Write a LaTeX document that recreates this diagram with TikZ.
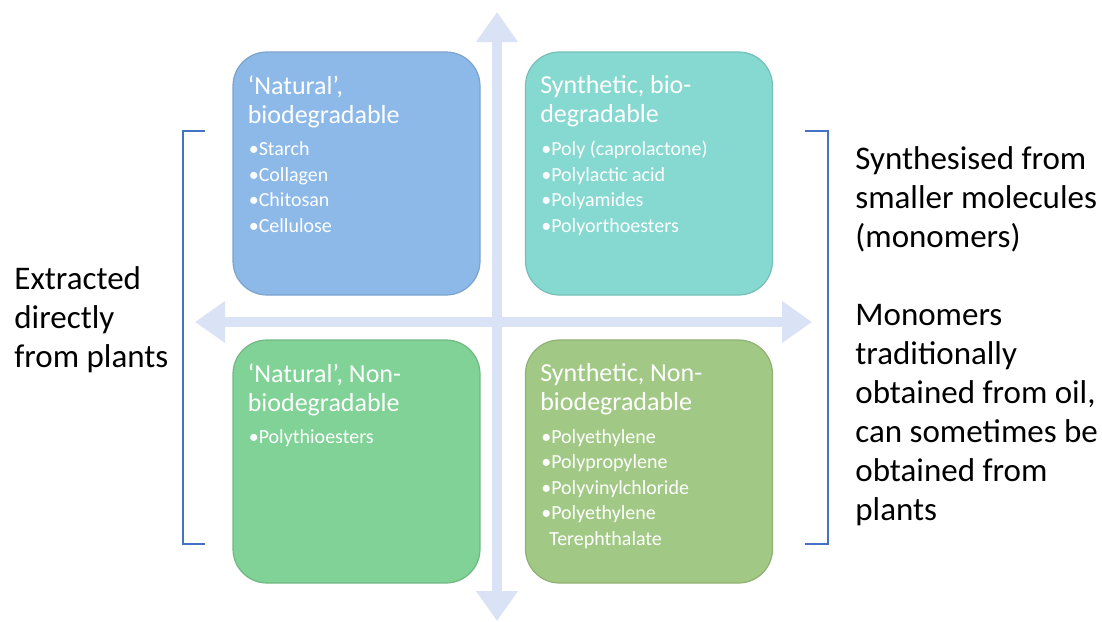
\documentclass[tikz,border=0pt]{standalone}
\usepackage{fontspec}
\setmainfont{Carlito}
\definecolor{axiscol}{RGB}{218,226,245}
\definecolor{bracketcol}{RGB}{68,114,196}
\definecolor{natbio}{RGB}{141,185,232}
\definecolor{synbio}{RGB}{134,217,209}
\definecolor{natnon}{RGB}{128,210,150}
\definecolor{synnon}{RGB}{161,201,133}
\usetikzlibrary{arrows.meta}
\usetikzlibrary{positioning}

\begin{document}
\begin{tikzpicture}[x=0.5pt, y=-0.5pt,
    quad/.style={draw=#1!88!black, line width=0.6pt, fill=#1, rounded corners=17pt,
        minimum width=123.5pt, minimum height=121.5pt},
    qtitle/.style={anchor=north west, inner sep=0pt, align=left, text=white,
        font=\fontsize{13}{14.5}\selectfont},
    qitems/.style={anchor=north west, inner sep=0pt, align=left, text=white,
        font=\fontsize{10}{12.75}\selectfont},
    side/.style={inner sep=0pt, align=left, font=\fontsize{16.5}{19.5}\selectfont},
    axis/.style={draw=axiscol, line width=5pt,
        {Triangle[width=20pt,length=15pt]}-{Triangle[width=20pt,length=15pt]}},
    brace/.style={draw=bracketcol, line width=1.2pt}]
\useasboundingbox (0,0) rectangle (1102,621);

% axes
\coordinate (top) at (497,12);
\coordinate (bottom) at (497,621);
\coordinate (left) at (195,322);
\coordinate (right) at (812,322);
\draw[axis] (left) -- (right);
\draw[axis] (top) -- (bottom);

% quadrants
\node[quad=natbio] (nb) at (356.5,173.5) {};
\node[quad=synbio] (sb) at (649,173.5) {};
\node[quad=natnon] (nn) at (356.5,461.5) {};
\node[quad=synnon] (sn) at (649,461.5) {};

\node[qtitle] (nbt) at ([xshift=7.5pt,yshift=-12pt]nb.north west) {`Natural',\\biodegradable};
\node[qitems] (nbi) at ([xshift=0.5pt,yshift=-6.5pt]nbt.south west) {•Starch\\•Collagen\\•Chitosan\\•Cellulose};

\node[qtitle] (sbt) at ([xshift=7.5pt,yshift=-12pt]sb.north west) {Synthetic, bio-\\degradable};
\node[qitems] (sbi) at ([xshift=0.5pt,yshift=-6.5pt]sbt.south west) {•Poly (caprolactone)\\•Polylactic acid\\•Polyamides\\•Polyorthoesters};

\node[qtitle] (nnt) at ([xshift=7.5pt,yshift=-12pt]nn.north west) {`Natural', Non-\\biodegradable};
\node[qitems] (nni) at ([xshift=0.5pt,yshift=-6.5pt]nnt.south west) {•Polythioesters};

\node[qtitle] (snt) at ([xshift=7.5pt,yshift=-12pt]sn.north west) {Synthetic, Non-\\biodegradable};
\node[qitems] (sni) at ([xshift=0.5pt,yshift=-6.5pt]snt.south west) {•Polyethylene\\•Polypropylene\\•Polyvinylchloride\\•Polyethylene\\\hspace*{4pt}Terephthalate};

% brackets
\coordinate (lb1) at (205,131);
\coordinate (lb2) at (183,131);
\coordinate (lb3) at (183,544);
\coordinate (lb4) at (205,544);
\draw[brace] (lb1) -- (lb2) -- (lb3) -- (lb4);
\coordinate (rb1) at (805,131);
\coordinate (rb2) at (828,131);
\coordinate (rb3) at (828,544);
\coordinate (rb4) at (805,544);
\draw[brace] (rb1) -- (rb2) -- (rb3) -- (rb4);

% side labels
\node[side, anchor=west] (extr) at (14,320) {Extracted\\directly\\from plants};
\node[side, anchor=west] (synth) at (855,336) {Synthesised from\\smaller molecules\\(monomers)\\[19.5pt]Monomers\\traditionally\\obtained from oil,\\can sometimes be\\obtained from\\plants};
\end{tikzpicture}
\end{document}
